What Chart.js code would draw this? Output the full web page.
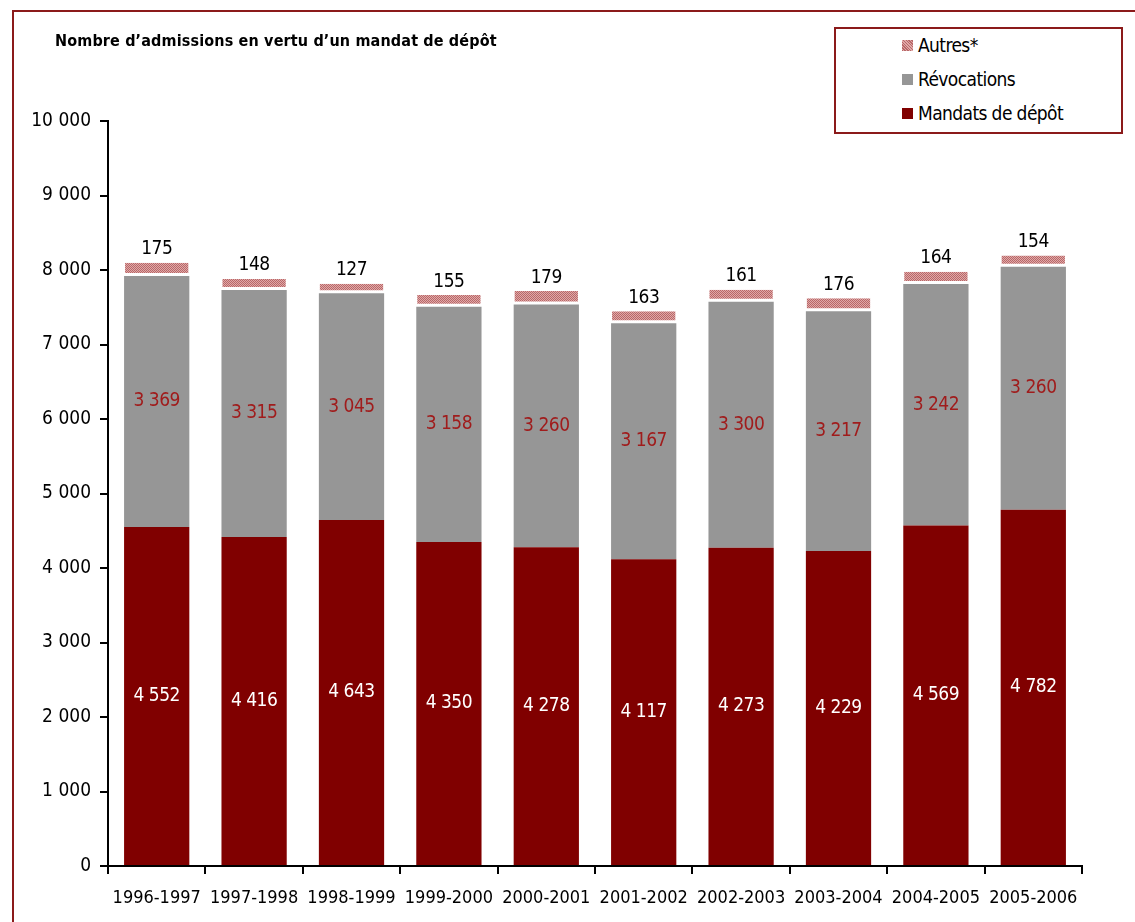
<!DOCTYPE html>
<html>
<head>
<meta charset="utf-8">
<script src="https://cdn.jsdelivr.net/npm/chart.js@4"></script>
<style>
  html, body { margin: 0; padding: 0; background: #fff; }
  #wrap { position: relative; width: 1135px; height: 922px; overflow: hidden; font-family: 'Liberation Sans Narrow', 'Arial Narrow', 'DejaVu Sans Condensed', sans-serif; }
  #frameTop { position: absolute; left: 12px; top: 10px; width: 1123px; height: 2px; background: #8b1a1a; }
  #frameLeft { position: absolute; left: 12px; top: 10px; width: 2px; height: 912px; background: #8b1a1a; }
  #title { position: absolute; left: 55px; top: 31px; font-weight: bold; font-size: 16px; letter-spacing: 0.15px; color: #000; white-space: nowrap; }
  #legend { position: absolute; left: 834px; top: 27px; width: 285px; height: 103px; border: 2px solid #8b1a1a; background: #fff; }
  .li { position: absolute; left: 66px; font-size: 19px; letter-spacing: -0.6px; color: #000; white-space: nowrap; line-height: 22px; }
  .sw { display: inline-block; width: 11px; height: 11px; margin-right: 5px; vertical-align: 1px; }
  canvas { position: absolute; left: 0; top: 0; }
</style>
</head>
<body>
<div id="wrap">
  <canvas id="c" width="1135" height="922"></canvas>
  <div id="frameTop"></div>
  <div id="frameLeft"></div>
  <div id="title">Nombre d’admissions en vertu d’un mandat de dépôt</div>
  <div id="legend">
    <div class="li" style="top:5px"><span class="sw" style="background: repeating-linear-gradient(45deg,#b86868 0 1px,#e0a8a8 1px 2px);"></span>Autres*</div>
    <div class="li" style="top:39px"><span class="sw" style="background:#969696;"></span>Révocations</div>
    <div class="li" style="top:73px"><span class="sw" style="background:#800000;"></span>Mandats de dépôt</div>
  </div>
</div>
<script>
const categories = ['1996-1997','1997-1998','1998-1999','1999-2000','2000-2001','2001-2002','2002-2003','2003-2004','2004-2005','2005-2006'];
const mandats = [4552, 4416, 4643, 4350, 4278, 4117, 4273, 4229, 4569, 4782];
const revocations = [3369, 3315, 3045, 3158, 3260, 3167, 3300, 3217, 3242, 3260];
const autres = [175, 148, 127, 155, 179, 163, 161, 176, 164, 154];
const yTicks = [0, 1000, 2000, 3000, 4000, 5000, 6000, 7000, 8000, 9000, 10000];

const FONT = "'Liberation Sans Narrow', 'Arial Narrow', 'DejaVu Sans Condensed', sans-serif";

function fmt(v) {
  return String(v).replace(/\B(?=(\d{3})+(?!\d))/g, ' ');
}

function makePattern() {
  const pc = document.createElement('canvas');
  pc.width = 2; pc.height = 2;
  const p = pc.getContext('2d');
  p.fillStyle = '#e0a8a8'; p.fillRect(0, 0, 2, 2);
  p.fillStyle = '#b86868'; p.fillRect(0, 0, 1, 1); p.fillRect(1, 1, 1, 1);
  return document.getElementById('c').getContext('2d').createPattern(pc, 'repeat');
}

const labelPlugin = {
  id: 'valueLabels',
  afterDatasetsDraw(chart) {
    const ctx = chart.ctx;
    ctx.save();
    ctx.font = '19px ' + FONT;
    ctx.letterSpacing = '-0.5px';
    ctx.textAlign = 'center';
    chart.data.datasets.forEach((ds, di) => {
      const meta = chart.getDatasetMeta(di);
      meta.data.forEach((el, i) => {
        const p = el.getProps(['x', 'y', 'base'], true);
        const v = ds.data[i];
        if (di === 2) {
          ctx.fillStyle = '#000';
          ctx.textBaseline = 'bottom';
          ctx.fillText(fmt(v), p.x, p.y - 4);
        } else {
          ctx.fillStyle = di === 0 ? '#ffffff' : '#a01c1c';
          ctx.textBaseline = 'middle';
          ctx.fillText(fmt(v), p.x, (p.y + p.base) / 2);
        }
      });
    });
    ctx.restore();
  }
};

const chart = new Chart(document.getElementById('c'), {
  type: 'bar',
  data: {
    labels: categories,
    datasets: [
      { label: 'Mandats de dépôt', data: mandats, backgroundColor: '#800000', borderWidth: 0 },
      { label: 'Révocations', data: revocations, backgroundColor: '#969696', borderWidth: 0 },
      { label: 'Autres*', data: autres, backgroundColor: makePattern(), borderColor: '#ffffff',
        borderWidth: { top: 0, left: 1, right: 1, bottom: 3 }, borderSkipped: false }
    ]
  },
  options: {
    responsive: false,
    animation: false,
    layout: { padding: { left: 0, right: 53, top: 121, bottom: 0 } },
    plugins: { legend: { display: false }, tooltip: { enabled: false }, title: { display: false } },
    datasets: { bar: { barPercentage: 0.67, categoryPercentage: 1.0 } },
    scales: {
      x: {
        stacked: true,
        grid: { display: true, offset: true, drawOnChartArea: false, drawTicks: true, tickLength: 8, tickColor: '#000', lineWidth: 2 },
        border: { display: true, color: '#000', width: 2 },
        ticks: { color: '#000', font: { family: FONT, size: 18 }, padding: 14, maxRotation: 0, autoSkip: false },
        afterFit(scale) { scale.height = 56; scale.paddingLeft = 0; scale.paddingRight = 0; }
      },
      y: {
        stacked: true,
        min: 0, max: 10000,
        afterBuildTicks(scale) { scale.ticks = yTicks.map(v => ({ value: v })); },
        grid: { display: true, drawOnChartArea: false, drawTicks: true, tickLength: 8, tickColor: '#000', lineWidth: 2 },
        border: { display: true, color: '#000', width: 2 },
        ticks: { color: '#000', font: { family: FONT, size: 19 }, padding: 9, callback: v => fmt(v) },
        afterFit(scale) { scale.width = 108; scale.paddingTop = 0; scale.paddingBottom = 0; }
      }
    }
  },
  plugins: [labelPlugin]
});
</script>
</body>
</html>
